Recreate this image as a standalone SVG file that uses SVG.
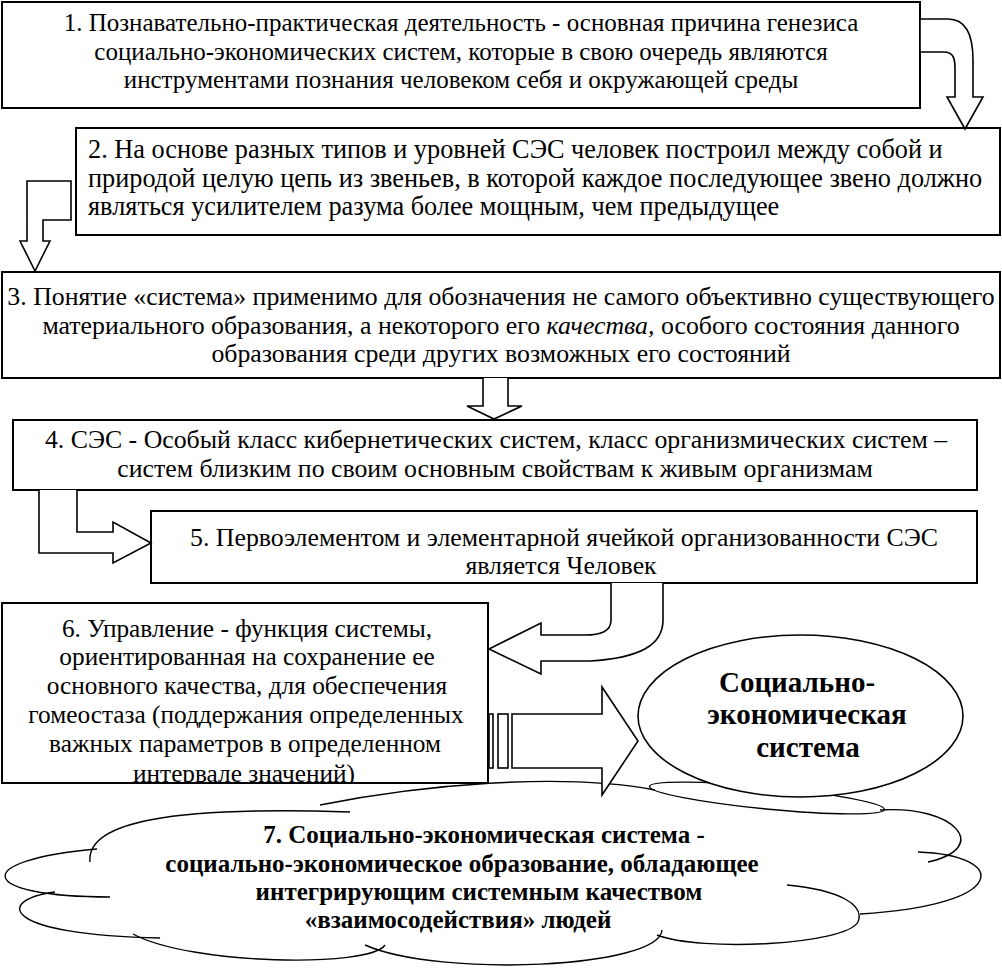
<svg xmlns="http://www.w3.org/2000/svg" width="1002" height="974" viewBox="0 0 1002 974">
<style>
.box{fill:#fff;stroke:#000;stroke-width:2}
.arr{fill:#fff;stroke:#000;stroke-width:1.6;stroke-linejoin:miter}
.t{font-size:25px;fill:#000}
.c{text-anchor:middle}
.b{font-weight:bold}
.s1{font-size:25px}
.s2{font-size:26.3px}
.s3{font-size:25.8px}
.s6{font-size:25.3px}
.k{font-size:25px}
.e{font-size:29px}
.cl{fill:none;stroke:#000;stroke-width:1.4}
</style>
<defs>
<clipPath id="clip6"><rect x="3" y="604" width="484" height="178"/></clipPath>
</defs>
<rect width="1002" height="974" fill="#fff"/>

<g id="n7">
<path class="cl" d="M90,862 C86,822 170,806 350,812"/>
<path class="cl" d="M320,805 C420,785 560,772 655,790"/>
<ellipse class="cl" cx="767" cy="798" rx="118" ry="11" transform="rotate(5.6 767 798)"/>
<path class="cl" d="M880,810 C955,805 992,848 928,862"/>
<path class="cl" d="M918,852 C1008,855 1012,905 860,914"/>
<path class="cl" d="M787,885 C840,890 865,905 858,922 C845,945 700,952 657,935"/>
<path class="cl" d="M662,930 C660,968 440,978 365,945"/>
<path class="cl" d="M133,934 C190,965 370,968 385,945"/>
<path class="cl" d="M55,892 C-5,900 0,935 160,938"/>
<path class="cl" d="M97,849 C-30,860 -25,897 110,897"/>
<text class="t b c k" font-family="Liberation Serif" x="484" y="843">7. Социально-экономическая система -</text>
<text class="t b c k" font-family="Liberation Serif" x="462" y="872">социально-экономическое образование, обладающее</text>
<text class="t b c k" font-family="Liberation Serif" x="479" y="900">интегрирующим системным качеством</text>
<text class="t b c k" font-family="Liberation Serif" x="458" y="928">«взаимосодействия» людей</text>
</g>

<g id="n8">
<ellipse cx="800.5" cy="716" rx="162.5" ry="81" fill="#fff" stroke="#000" stroke-width="1.6"/>
<text class="t b c e" font-family="Liberation Serif" x="797" y="692">Социально-</text>
<text class="t b c e" font-family="Liberation Serif" x="807" y="724">экономическая</text>
<text class="t b c e" font-family="Liberation Serif" x="808" y="757">система</text>
</g>

<g id="n1">
<rect class="box" x="2" y="2" width="918" height="106"/>
<text class="t c s1" font-family="Liberation Serif" x="461" y="31">1. Познавательно-практическая деятельность - основная причина генезиса</text>
<text class="t c s1" font-family="Liberation Serif" x="461" y="60">социально-экономических систем, которые в свою очередь являются</text>
<text class="t c s1" font-family="Liberation Serif" x="461" y="88">инструментами познания человеком себя и окружающей среды</text>
</g>

<g id="n2">
<rect class="box" x="76" y="128" width="924" height="107"/>
<text class="t s2" font-family="Liberation Serif" x="88" y="158">2. На основе разных типов и уровней СЭС человек построил между собой и</text>
<text class="t s2" font-family="Liberation Serif" x="88" y="187">природой целую цепь из звеньев, в которой каждое последующее звено должно</text>
<text class="t s2" font-family="Liberation Serif" x="88" y="215">являться усилителем разума более мощным, чем предыдущее</text>
</g>

<g id="n3">
<rect class="box" x="2" y="272" width="998" height="106"/>
<text class="t c s3" font-family="Liberation Serif" x="501" y="305">3. Понятие «система» применимо для обозначения не самого объективно существующего</text>
<text class="t c s3" font-family="Liberation Serif" x="501" y="334">материального образования, а некоторого его <tspan font-style="italic">качества,</tspan> особого состояния данного</text>
<text class="t c s3" font-family="Liberation Serif" x="501" y="362">образования среди других возможных его состояний</text>
</g>

<g id="n4">
<rect class="box" x="13" y="420" width="964" height="70"/>
<text class="t c s3" font-family="Liberation Serif" x="496" y="448">4. СЭС - Особый класс кибернетических систем, класс организмических систем –</text>
<text class="t c s3" font-family="Liberation Serif" x="495" y="477">систем близким по своим основным свойствам к живым организмам</text>
</g>

<g id="n5">
<rect class="box" x="151" y="511" width="826" height="72"/>
<text class="t c s3" font-family="Liberation Serif" x="564" y="546">5. Первоэлементом и элементарной ячейкой организованности СЭС</text>
<text class="t c s3" font-family="Liberation Serif" x="561" y="574">является Человек</text>
</g>

<g id="n6">
<rect class="box" x="2" y="603" width="486" height="180"/>
<g clip-path="url(#clip6)">
<text class="t c s6" font-family="Liberation Serif" x="247" y="637">6. Управление - функция системы,</text>
<text class="t c s6" font-family="Liberation Serif" x="247" y="665">ориентированная на сохранение ее</text>
<text class="t c s6" font-family="Liberation Serif" x="247" y="694">основного качества, для обеспечения</text>
<text class="t c s6" font-family="Liberation Serif" x="246" y="723">гомеостаза (поддержания определенных</text>
<text class="t c s6" font-family="Liberation Serif" x="245" y="752">важных параметров в определенном</text>
<text class="t c s6" font-family="Liberation Serif" x="244" y="782">интервале значений)</text>
</g>
</g>

<g id="connectors">
<path class="arr" d="M920,19 L948,19 C966,19 973,35 973,60 L973,97 L983,97 L965,129 L947,97 L955,97 L955,68 C955,58 953,52 944,52 L920,52 Z"/>
<path class="arr" d="M71,181 L27,181 L27,241 L20,241 L35,271 L50,241 L43,241 L43,220 L71,220 Z"/>
<path class="arr" d="M483,378 L483,406 L467,406 L494,419 L522,406 L508,406 L508,378"/>
<path class="arr" d="M77,490 L77,532 L113,532 L113,522 L151,543 L113,563 L113,553 L39,553 L39,490"/>
<path class="arr" d="M611,583 L611,620 C611,632 600,635 585,635 L541,635 L541,623 L489,649 L541,674 L541,661 L590,661 C640,658 663,645 663,620 L663,583"/>
<rect class="arr" x="489" y="714" width="4" height="54"/>
<rect class="arr" x="498" y="714" width="10" height="54"/>
<path class="arr" d="M512,714 L602,714 L602,687 L638,741 L602,795 L602,768 L512,768 Z"/>
</g>
</svg>
